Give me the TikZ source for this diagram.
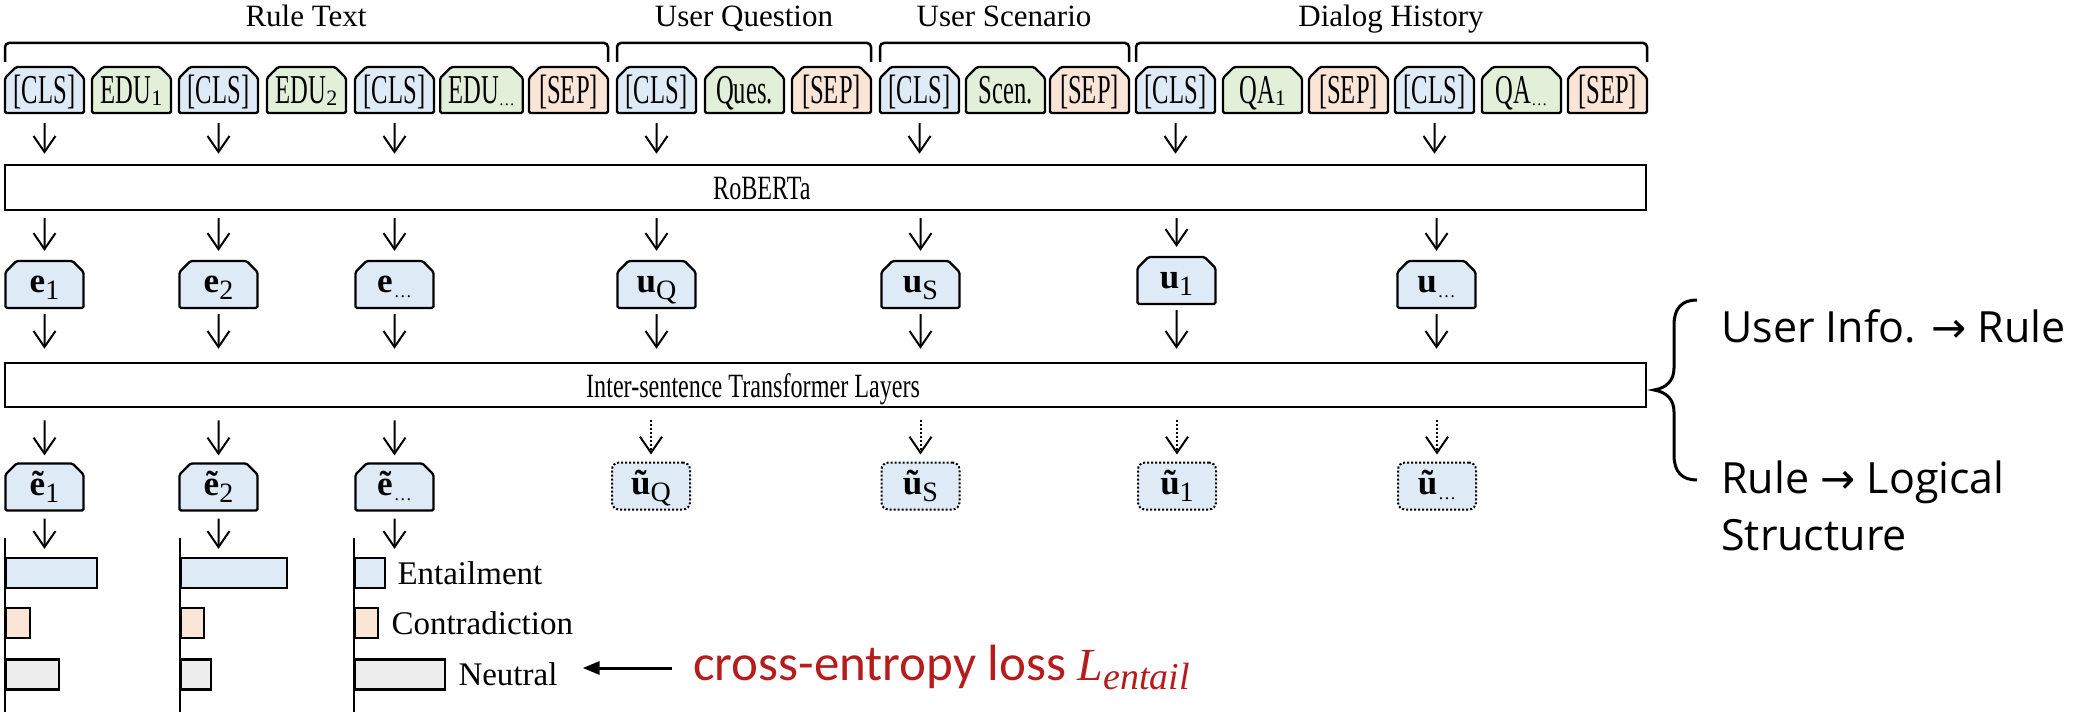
\documentclass[tikz,border=0pt]{standalone}
\usepackage{fontspec}
\setmainfont{Liberation Serif}
\newfontfamily\tokfont{Liberation Serif}[FakeStretch=0.6]
\newfontfamily\layerfont{Liberation Serif}[FakeStretch=0.71]
\newfontfamily\sidefont{Open Sans}
\newfontfamily\lossfont{Carlito}
\newfontfamily\symfont{DejaVu Sans}
\usetikzlibrary{shapes.misc,arrows.meta}

\definecolor{clsblue}{HTML}{DEEBF7}
\definecolor{edugreen}{HTML}{E2F0D9}
\definecolor{seporange}{HTML}{FBE5D6}
\definecolor{neutgray}{HTML}{EDEDED}
\definecolor{lossred}{HTML}{B71C1C}

% subscripts inside token boxes and vector labels
\newcommand\tsub[1]{\raisebox{-2pt}{\rmfamily\fontsize{22}{22}\selectfont #1}}
\newcommand\tdots{\raisebox{-2pt}{\rmfamily\fontsize{16}{16}\selectfont …}}
\newcommand\vsub[1]{\raisebox{-7pt}{\fontsize{28}{28}\selectfont #1}}
\newcommand\subdots{\raisebox{-5pt}{\fontsize{18}{18}\selectfont …}}
\newcommand\embv[2]{\textbf{#1}\vsub{#2}}
\newcommand\embd[1]{\textbf{#1}\hspace{1pt}\subdots}
\newcommand\thinarrow{{\symfont\fontsize{42}{42}\selectfont →}}

\tikzset{
  tok/.style={chamfered rectangle, chamfered rectangle corners={north west,north east},
    chamfered rectangle xsep=8pt, draw=black, line width=2.3pt, rounded corners=1.5pt,
    fill=#1, minimum width=79pt, minimum height=46pt, inner sep=0pt,
    text height=27pt, text depth=0pt, font=\tokfont\fontsize{41}{41}\selectfont},
  emb/.style={chamfered rectangle, chamfered rectangle corners={north west,north east},
    chamfered rectangle xsep=8pt, draw=black, line width=2.3pt, rounded corners=1.5pt,
    fill=clsblue, minimum width=78pt, minimum height=47pt, inner sep=0pt,
    text height=16pt, text depth=0pt, font=\fontsize{35}{35}\selectfont},
  embt/.style={rectangle, rounded corners=7pt, draw=black, line width=2pt,
    dash pattern=on 2pt off 2pt, fill=clsblue, minimum width=78pt, minimum height=47pt,
    inner sep=0pt, text height=16pt, text depth=0pt, font=\fontsize{35}{35}\selectfont},
  layer/.style={rectangle, draw=black, line width=2.5pt, minimum width=1641pt,
    minimum height=#1, inner sep=0pt},
  layertxt/.style={anchor=base west, inner sep=0pt, font=\layerfont\fontsize{34}{34}\selectfont},
  arr/.style={line width=2pt, -{Straight Barb[length=16pt,width=22pt]}},
  darr/.style={arr, dash pattern=on 2pt off 2pt},
  bracket/.style={line width=2.5pt, rounded corners=4pt},
  head/.style={anchor=base, font=\fontsize{31}{31}\selectfont},
  bar/.style={rectangle, draw=black, line width=2.3pt, fill=#1, minimum height=30pt,
    inner sep=0pt, anchor=west},
  axisline/.style={line width=2.5pt},
  lbl/.style={anchor=west, inner sep=0pt, font=\fontsize{33}{33}\selectfont},
  side/.style={anchor=base west, inner sep=0pt, font=\sidefont\fontsize{43}{43}\selectfont},
  lossarr/.style={line width=3pt, -{Triangle[length=17pt,width=13pt]}},
}

\begin{document}
\begin{tikzpicture}[x=1pt,y=1pt]
\useasboundingbox (0,0) rectangle (2075,-714);

% ---------- input tokens ----------
\node[tok=clsblue]   (t1)  at (44.5,-90)   {[CLS]};
\node[tok=edugreen]  (t2)  at (131.5,-90)  {EDU\tsub{1}};
\node[tok=clsblue]   (t3)  at (218.5,-90)  {[CLS]};
\node[tok=edugreen]  (t4)  at (306.5,-90)  {EDU\tsub{2}};
\node[tok=clsblue]   (t5)  at (394.5,-90)  {[CLS]};
\node[tok=edugreen]  (t6)  at (481.5,-90)  {EDU\tdots};
\node[tok=seporange] (t7)  at (568.5,-90)  {[SEP]};
\node[tok=clsblue]   (t8)  at (656.5,-90)  {[CLS]};
\node[tok=edugreen]  (t9)  at (744.5,-90)  {Ques.};
\node[tok=seporange] (t10) at (831.5,-90)  {[SEP]};
\node[tok=clsblue]   (t11) at (919.5,-90)  {[CLS]};
\node[tok=edugreen]  (t12) at (1005.5,-90) {Scen.};
\node[tok=seporange] (t13) at (1089.5,-90) {[SEP]};
\node[tok=clsblue]   (t14) at (1175.5,-90) {[CLS]};
\node[tok=edugreen]  (t15) at (1262.5,-90) {QA\tsub{1}};
\node[tok=seporange] (t16) at (1348.5,-90) {[SEP]};
\node[tok=clsblue]   (t17) at (1434.5,-90) {[CLS]};
\node[tok=edugreen]  (t18) at (1521.5,-90) {QA\tdots};
\node[tok=seporange] (t19) at (1607.5,-90) {[SEP]};

% ---------- segment brackets and headings ----------
\draw[bracket] (5,-62) -- (5,-43) -- (608,-43) -- (608,-62);
\draw[bracket] (617,-62) -- (617,-43) -- (871,-43) -- (871,-62);
\draw[bracket] (880,-62) -- (880,-43) -- (1129,-43) -- (1129,-62);
\draw[bracket] (1136,-62) -- (1136,-43) -- (1647,-43) -- (1647,-62);
\node[head] (hrule) at (306,-27)  {Rule Text};
\node[head] (hques) at (744,-27)  {User Question};
\node[head] (hscen) at (1004,-27) {User Scenario};
\node[head] (hdial) at (1391,-27) {Dialog History};

% ---------- encoder ----------
\node[layer=45pt] (rob) at (825.5,-187.5) {};
\node[layertxt] (robtxt) at (713,-200) {RoBERTa};

\foreach \t in {t1,t3,t5,t8,t11,t14,t17}
  \draw[arr, shorten <=9pt, shorten >=10pt] (\t) -- (\t |- rob.north);

% ---------- sentence vectors ----------
\node[emb] (e1) at (44.5,-284.5)   {\embv{e}{1}};
\node[emb] (e2) at (218.5,-284.5)  {\embv{e}{2}};
\node[emb] (e3) at (394.5,-284.5)  {\embd{e}};
\node[emb] (uq) at (656.5,-284.5)  {\embv{u}{Q}};
\node[emb] (us) at (920.5,-284.5)  {\embv{u}{S}};
\node[emb] (u1) at (1176.5,-280.5) {\embv{u}{1}};
\node[emb] (u2) at (1436.5,-284.5) {\embd{u}};

\foreach \v in {e1,e2,e3,uq,us,u1,u2} {
  \draw[arr, shorten <=7pt, shorten >=9pt] (\v |- rob.south) -- (\v);
}

% ---------- inter-sentence layers ----------
\node[layer=44pt] (inter) at (825.5,-385) {};
\node[layertxt] (intertxt) at (586,-397) {Inter-sentence Transformer Layers};

\foreach \v in {e1,e2,e3,uq,us,u1,u2}
  \draw[arr, shorten <=5pt, shorten >=13pt] (\v) -- (\v |- inter.north);

% ---------- contextualised vectors ----------
\node[emb]  (et1) at (44.5,-487)   {\embv{ẽ}{1}};
\node[emb]  (et2) at (218.5,-487)  {\embv{ẽ}{2}};
\node[emb]  (et3) at (394.5,-487)  {\embd{ẽ}};
\node[embt] (ut1) at (651,-486)    {\embv{ũ}{Q}};
\node[embt] (ut2) at (920.5,-486)  {\embv{ũ}{S}};
\node[embt] (ut3) at (1177,-486)   {\embv{ũ}{1}};
\node[embt] (ut4) at (1437,-486)   {\embd{ũ}};

\foreach \v in {et1,et2,et3}
  \draw[arr, shorten <=12pt, shorten >=7pt] (\v |- inter.south) -- (\v);
\foreach \v in {ut1,ut2,ut3,ut4}
  \draw[darr, shorten <=12pt, shorten >=7pt] (\v |- inter.south) -- (\v);

% ---------- entailment scores ----------
\coordinate (ax1) at (5,-538);
\coordinate (ax2) at (180,-538);
\coordinate (ax3) at (354,-538);
\foreach \a in {ax1,ax2,ax3}
  \draw[axisline] (\a) -- ++(0,-174);

\node[bar=clsblue,   minimum width=91pt]  (b1e) at (5,-573)   {};
\node[bar=seporange, minimum width=24pt]  (b1c) at (5,-623)   {};
\node[bar=neutgray,  minimum width=53pt]  (b1n) at (5,-674.5) {};
\node[bar=clsblue,   minimum width=106pt] (b2e) at (180,-573)   {};
\node[bar=seporange, minimum width=23pt]  (b2c) at (180,-623)   {};
\node[bar=neutgray,  minimum width=30pt]  (b2n) at (180,-674.5) {};
\node[bar=clsblue,   minimum width=30pt]  (b3e) at (354,-573)   {};
\node[bar=seporange, minimum width=23pt]  (b3c) at (354,-623)   {};
\node[bar=neutgray,  minimum width=90pt]  (b3n) at (354,-674.5) {};

\draw[arr, shorten <=7pt, shorten >=8pt] (et1) -- (et1 |- b1e.north);
\draw[arr, shorten <=7pt, shorten >=8pt] (et2) -- (et2 |- b2e.north);
\draw[arr, shorten <=7pt, shorten >=8pt] (et3) -- (et3 |- b3e.north);

\node[lbl] (lent) at ([xshift=11pt]b3e.east) {Entailment};
\node[lbl] (lcon) at ([xshift=12pt]b3c.east) {Contradiction};
\node[lbl] (lneu) at ([xshift=12pt]b3n.east) {Neutral};

% ---------- loss ----------
\node[anchor=base west, inner sep=0pt, text=lossred,
      font=\lossfont\fontsize{51}{51}\selectfont] (loss) at (693,-680)
      {cross-entropy loss {\rmfamily\itshape\fontsize{46}{46}\selectfont L\raisebox{-9pt}{\fontsize{38}{38}\selectfont entail}}};
\coordinate (losstail) at (672,-668);
\draw[lossarr, shorten >=25pt] (losstail) -- (losstail -| lneu.east);

% ---------- attention directions ----------
\draw[line width=3pt] (1697,-300) .. controls (1682,-300) and (1674,-308) .. (1674,-325)
  -- (1674,-368) .. controls (1674,-381) and (1666,-388) .. (1654,-390)
  .. controls (1666,-392) and (1674,-399) .. (1674,-412)
  -- (1674,-455) .. controls (1674,-472) and (1682,-480) .. (1697,-480);
\node[side] (dir1) at (1721,-342) {User Info. \thinarrow{} Rule};
\node[side] (dir2) at (1721,-493) {Rule \thinarrow{} Logical};
\node[side] (dir3) at (1721,-550) {Structure};
\end{tikzpicture}
\end{document}
